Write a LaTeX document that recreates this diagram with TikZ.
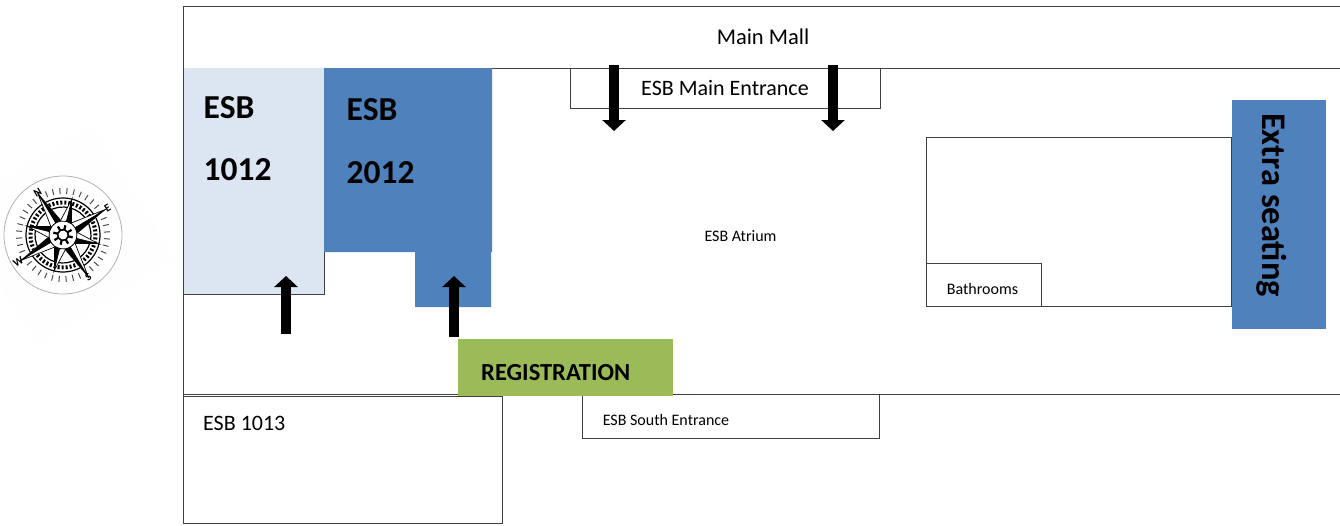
\documentclass[tikz,border=0pt]{standalone}
\usepackage{fontspec}
\setmainfont{Carlito}
\usetikzlibrary{arrows.meta}
\definecolor{lightroom}{HTML}{DCE6F2}
\definecolor{darkroom}{HTML}{4F81BD}
\definecolor{regcolor}{HTML}{9BBB59}
\definecolor{wall}{HTML}{404040}
\newcommand{\fsize}[1]{\fontsize{#1}{#1}\selectfont}
\begin{document}
\begin{tikzpicture}[x=1pt,y=-1pt]
\tikzstyle{every node}=[inner sep=0pt,text=black]
\tikzstyle{wallline}=[draw=wall,line width=1pt]
\tikzstyle{fatarrow}=[line width=10pt,-{Triangle[length=11pt,width=23pt]}]
\useasboundingbox (0,0) rectangle (1340,525);
% compass
\fill[black!0.5] (90,125)--(175,258)--(38,345)--(-47,212)--cycle;
\begin{scope}[shift={(63,235)},rotate=31]
\draw[black!30,fill=white,line width=0.8pt] (0,0) circle (59);
\foreach \a in {0,9,...,352}{\draw[line width=1pt,black!70] (\a:41)--(\a:47);}
\draw[line width=1.2pt] (0,0) circle (37);
\draw[line width=1.2pt] (0,0) circle (28);
\draw[line width=4pt,dash pattern=on 2pt off 2pt] (0,0) circle (32.5);
\foreach \a in {0,90,180,270}{
\fill[white] (\a:50)--(\a+26:14)--(\a-26:14)--cycle;
\fill[black] (\a:50)--(\a+26:14)--(\a:14)--cycle;
\draw[line width=0.7pt] (\a:50)--(\a-26:14)--(\a:14)--cycle;
\fill[white] (\a+45:37)--(\a+71:14)--(\a+19:14)--cycle;
\fill[black] (\a+45:37)--(\a+71:14)--(\a+45:14)--cycle;
\draw[line width=0.7pt] (\a+45:37)--(\a+19:14)--(\a+45:14)--cycle;
}
\draw[fill=white,line width=0.8pt] (0,0) circle (14);
\foreach \a in {0,45,...,315}{\draw[line width=2.2pt] (\a:5)--(\a:10);}
\draw[line width=1.6pt] (0,0) circle (5.5);
\node (compassN) [font=\fsize{11},rotate=31] at (0,-49) {\textbf{N}};
\node (compassE) [font=\fsize{11},rotate=31] at (52,0) {\textbf{E}};
\node (compassS) [font=\fsize{11},rotate=31] at (0,49) {\textbf{S}};
\node (compassW) [font=\fsize{11},rotate=31] at (-52,0) {\textbf{W}};
\end{scope}
% walls
\draw[wallline] (1340,6)--(183,6)--(183,523)--(502,523)--(502,396);
\draw[wallline] (183,68)--(1340,68);
\draw[wallline] (183,394.5)--(1340,394.5);
\draw[wallline] (183,396)--(502,396);
\draw[wallline] (570,68)--(570,108)--(880,108)--(880,68);
\draw[wallline] (582,395)--(582,438)--(879,438)--(879,395);
\draw[wallline] (926,137) rectangle (1231,306);
\draw[wallline] (926,263.5) rectangle (1041,306);
% rooms
\fill[lightroom] (183,68) rectangle (324,294);
\draw[wallline] (183,68)--(183,294)--(324,294)--(324,68);
\fill[darkroom] (324,68)--(492,68)--(492,252)--(491,252)--(491,307)--(415,307)--(415,252)--(324,252)--cycle;
\fill[regcolor] (458,339) rectangle (673,396);
\fill[darkroom] (1232,100) rectangle (1326,329);
% arrows
\coordinate (mainA) at (614,65);
\coordinate (mainAend) at (614,131);
\coordinate (mainB) at (833,65);
\coordinate (mainBend) at (833,131);
\coordinate (room1) at (286,334);
\coordinate (room1end) at (286,276);
\coordinate (room2) at (454,337);
\coordinate (room2end) at (454,276);
\draw[fatarrow] (mainA)--(mainAend);
\draw[fatarrow] (mainB)--(mainBend);
\draw[fatarrow] (room1)--(room1end);
\draw[fatarrow] (room2)--(room2end);
% labels
\node (mall) [font=\fsize{22.5}] at (763,37) {Main Mall};
\node (mainent) [font=\fsize{22}] at (725,88) {ESB Main Entrance};
\node (atrium) [font=\fsize{16}] at (740.5,236) {ESB Atrium};
\node (bath) [font=\fsize{16}] at (982.5,289) {Bathrooms};
\node (south) [font=\fsize{16}] at (666,420) {ESB South Entrance};
\node (r1013) [font=\fsize{22},anchor=west] at (203,423) {ESB 1013};
\node (r1012a) [font=\fsize{33.5}\bfseries,anchor=west] at (203.5,108) {ESB};
\node (r1012b) [font=\fsize{33.5}\bfseries,anchor=west] at (203.5,170) {1012};
\node (r2012a) [font=\fsize{33.5}\bfseries,anchor=west] at (346.5,110) {ESB};
\node (r2012b) [font=\fsize{33.5}\bfseries,anchor=west] at (346.5,173) {2012};
\node (reg) [font=\fsize{24.5}\bfseries,anchor=west] at (481,373) {REGISTRATION};
\node (extra) [font=\fsize{34.5}\bfseries,rotate=-90] at (1272,205) {Extra seating};
\end{tikzpicture}
\end{document}
